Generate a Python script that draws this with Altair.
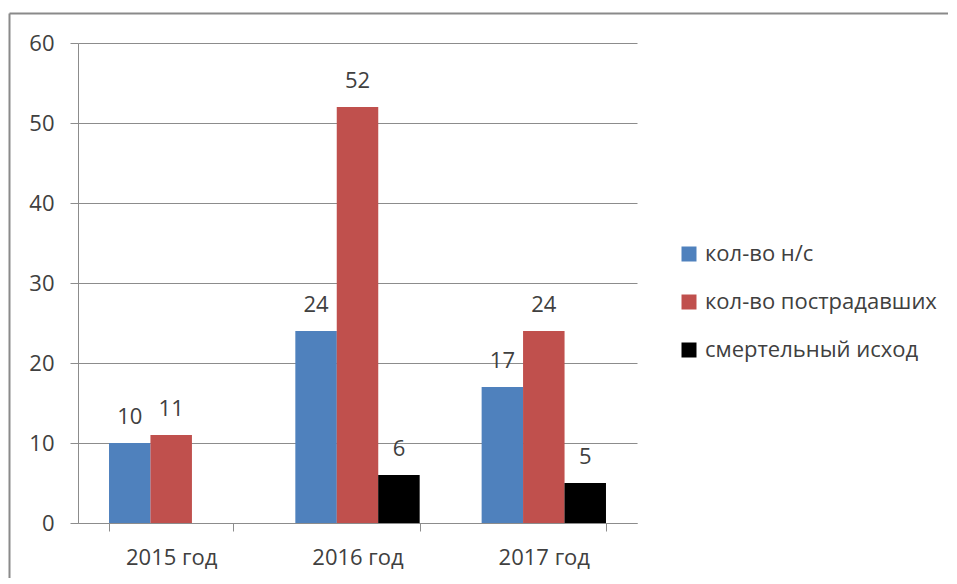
import altair as alt
import pandas as pd

years = ["2015 год", "2016 год", "2017 год"]
series = ["кол-во н/с", "кол-во пострадавших", "смертельный исход"]
incidents = [10, 24, 17]
victims = [11, 52, 24]
deaths = [None, 6, 5]
colors = ["#4F81BD", "#C0504D", "#000000"]

rows = []
for i, y in enumerate(years):
    for s, vals in zip(series, [incidents, victims, deaths]):
        if vals[i] is not None:
            rows.append({"year": y, "series": s, "value": vals[i]})
df = pd.DataFrame(rows)

FONT = "Open Sans"
TXT = "#404040"
GRID = "#8c8c8c"

x = alt.X("year:N", sort=years, title=None,
          scale=alt.Scale(paddingInner=0.333, paddingOuter=0.1667),
          axis=alt.Axis(labelAngle=0, tickBand="extent", tickSize=8,
                        labelPadding=16, domainColor=GRID, tickColor=GRID,
                        labelColor=TXT, labelFont=FONT, labelFontSize=22, grid=False))
xo = alt.XOffset("series:N", sort=series, scale=alt.Scale(domain=series, paddingInner=0, paddingOuter=0))
y = alt.Y("value:Q", title=None,
          scale=alt.Scale(domain=[0, 60], nice=False),
          axis=alt.Axis(values=[0, 10, 20, 30, 40, 50, 60], tickSize=8, labelPadding=16,
                        domainColor=GRID, tickColor=GRID, gridColor=GRID, grid=True,
                        labelColor=TXT, labelFont=FONT, labelFontSize=22))

bars = alt.Chart(df).mark_bar(size=41.5).encode(
    x=x, xOffset=xo, y=y,
    color=alt.Color("series:N", sort=series,
                    scale=alt.Scale(domain=series, range=colors),
                    legend=alt.Legend(title=None, orient="none", legendX=600, legendY=200,
                                      symbolType="square", symbolSize=225, symbolStrokeWidth=0,
                                      labelFont=FONT, labelFontSize=22, labelColor=TXT,
                                      rowPadding=26, labelOffset=5, padding=0,
                                      labelLimit=400)),
)

labels = alt.Chart(df).mark_text(baseline="bottom", dy=-14, font=FONT, fontSize=22, color=TXT).encode(
    x=alt.X("year:N", sort=years), xOffset=xo, y=alt.Y("value:Q"), text="value:Q"
)

frame_df = pd.DataFrame({"k": [0]})
left_border = alt.Chart(frame_df).mark_rule(color="#8a8a8a", strokeWidth=2).encode(
    x=alt.value(-68.5), y=alt.value(-29.5), y2=alt.value(600)
)
top_border = alt.Chart(frame_df).mark_rule(color="#8a8a8a", strokeWidth=2).encode(
    x=alt.value(-68.5), x2=alt.value(875), y=alt.value(-29.5)
)

chart = alt.layer(bars, labels, left_border, top_border).properties(
    width=559, height=480,
    autosize=alt.AutoSizeParams(type="none"),
    padding={"left": 70, "top": 35, "right": 311, "bottom": 55},
).configure_view(stroke=None)

chart.save("out.html", embed_options={"renderer": "svg", "actions": False})
